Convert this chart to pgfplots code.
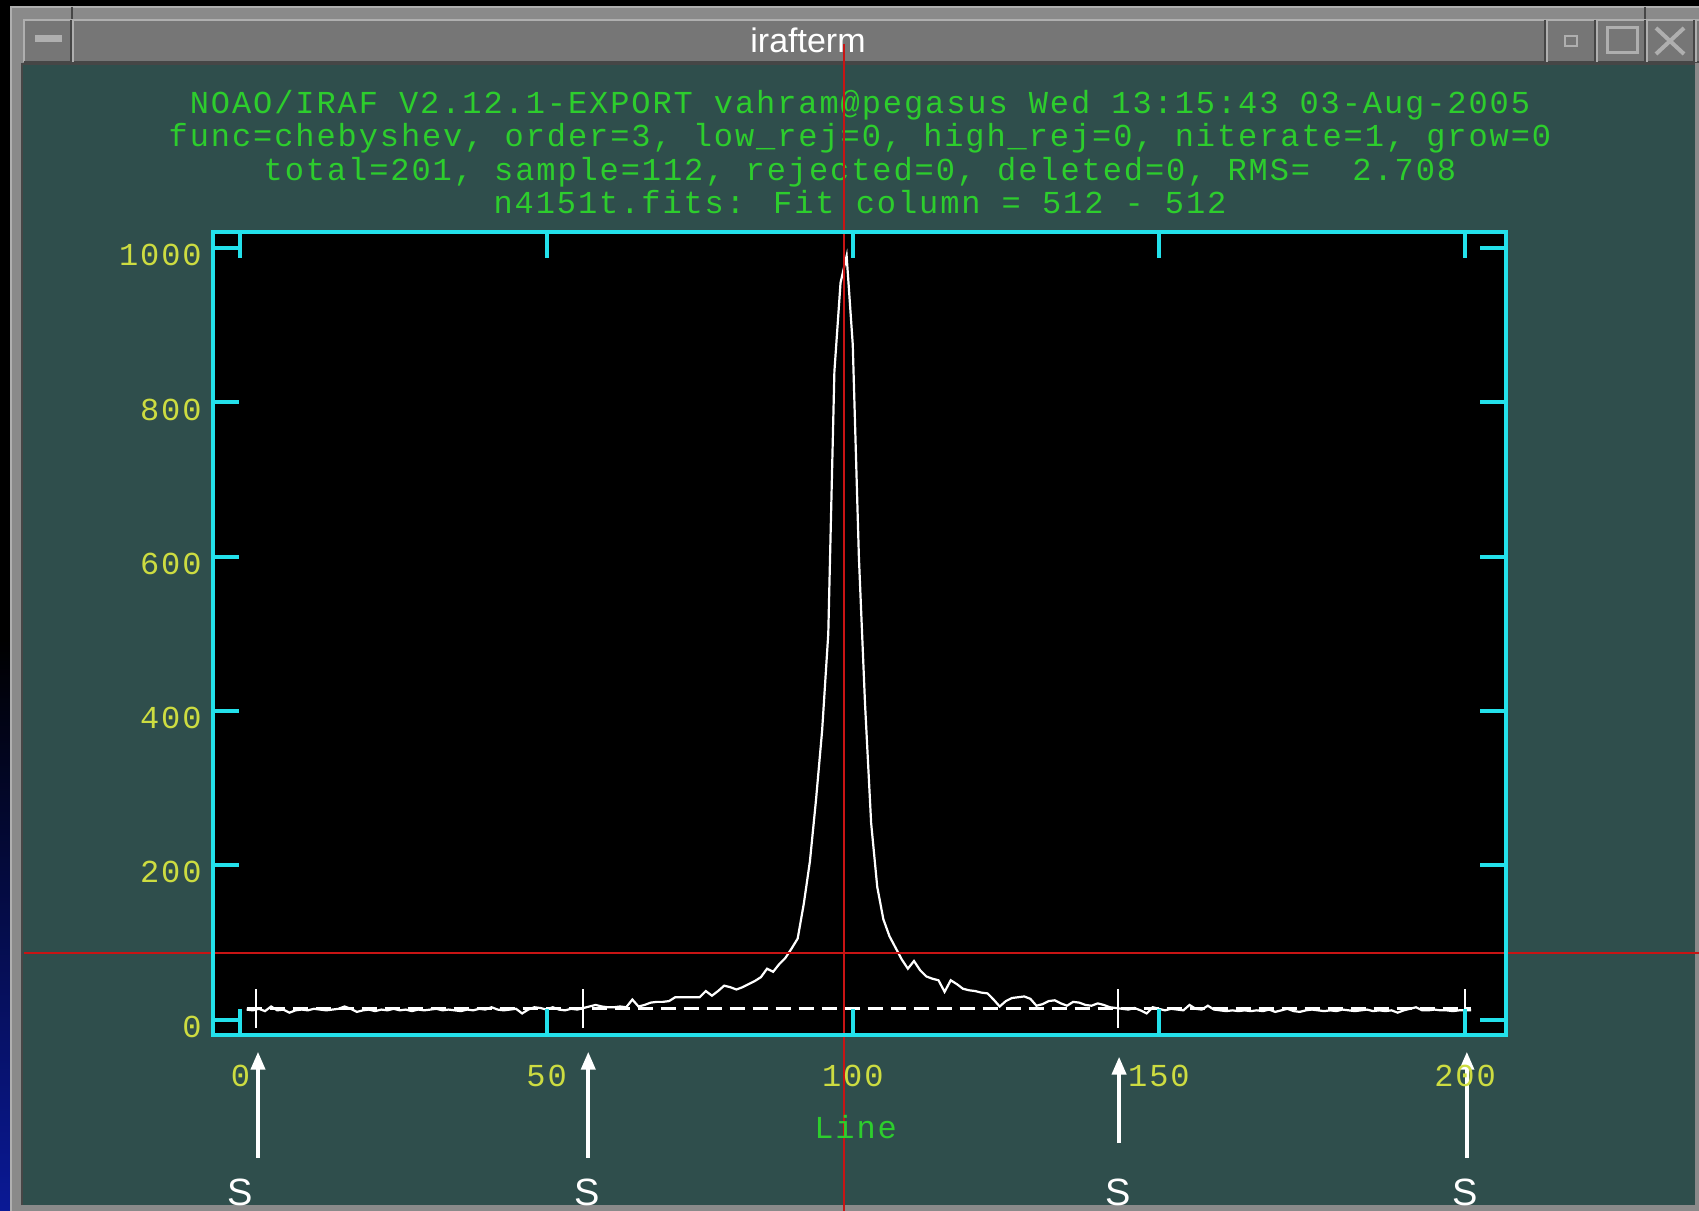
\documentclass[border=0pt]{standalone}
\usepackage{pgfplots}
\pgfplotsset{compat=1.18}
\usepackage{pgfplotstable}
\usepackage{fontspec}
\setmainfont{Liberation Sans}
\newfontfamily\iraf[LetterSpace=6]{Liberation Mono}
\usetikzlibrary{arrows.meta}
\definecolor{irbg}{RGB}{47,78,76}
\definecolor{ircyan}{RGB}{35,225,235}
\definecolor{iryel}{RGB}{205,220,65}
\definecolor{irgreen}{RGB}{45,205,45}
\definecolor{irred}{RGB}{200,20,20}
\definecolor{frm}{RGB}{138,138,138}
\definecolor{tbar}{RGB}{118,118,118}
\definecolor{lite}{RGB}{175,175,175}
\definecolor{dark}{RGB}{70,70,70}

\pgfplotstableread{
x y
1 13
2 12
3 14
4 11
5 17
6 12
7 13
8 9
9 12
10 13
11 12
12 14
13 13
14 12
15 13
16 14
17 17
18 14
19 10
20 12
21 13
22 11
23 13
24 12
25 14
26 12
27 13
28 11
29 13
30 12
31 13
32 14
33 12
34 13
35 12
36 11
37 13
38 12
39 14
40 13
41 16
42 13
43 12
44 13
45 14
46 8
47 13
48 16
49 15
50 13
51 16
52 13
53 12
54 14
55 13
56 15
57 17
58 19
59 17
60 16
61 16
62 17
63 16
64 26
65 17
66 19
67 22
68 23
69 23
70 24
71 29
72 29
73 29
74 29
75 29
76 37
77 31
78 37
79 44
80 42
81 39
82 42
83 46
84 50
85 55
86 66
87 62
88 72
89 80
90 92
91 105
92 150
93 205
94 285
95 375
96 500
97 840
98 955
99 990
100 875
101 600
102 410
103 255
104 172
105 130
106 108
107 93
108 78
109 66
110 76
111 64
112 56
113 53
114 51
115 36
116 51
117 46
118 40
119 38
120 37
121 35
122 34
123 26
124 17
125 24
126 28
127 29
128 30
129 27
130 18
131 20
132 24
133 25
134 21
135 18
136 23
137 22
138 19
139 18
140 21
141 19
142 16
143 15
144 14
145 13
146 15
147 12
148 8
149 16
150 14
151 12
152 14
153 13
154 12
155 19
156 14
157 13
158 18
159 13
160 12
161 11
162 12
163 11
164 12
165 11
166 12
167 11
168 13
169 10
170 12
171 14
172 11
173 10
174 12
175 13
176 12
177 11
178 12
179 11
180 13
181 12
182 11
183 12
184 13
185 11
186 12
187 11
188 12
189 9
190 12
191 14
192 16
193 12
194 12
195 13
196 12
197 12
198 11
199 12
200 12
201 12
}\prof

\begin{document}
\begin{tikzpicture}[x=0.5bp,y=0.5bp]
\useasboundingbox (0,0) rectangle (1699,-1211);
\clip (0,0) rectangle (1699,-1211);
\fill[black] (0,0) rectangle (1699,-1211);
\shade[top color=black, bottom color={rgb,255:red,10;green,25;blue,150}] (0,-640) rectangle (10,-1211);
% window frame
\fill[frm] (10,-6) rectangle (1699,-1211);
\draw[lite, line width=1bp] (11,-1211) -- (11,-7) -- (1699,-7);
\draw[dark, line width=1bp] (72,-7) -- (72,-19);
\draw[dark, line width=1bp] (1645,-7) -- (1645,-19);
% title bar
\fill[tbar] (24,-19) rectangle (1699,-62);
\draw[lite, line width=1bp] (24,-62) -- (24,-20) -- (1699,-20);
\draw[dark, line width=1bp] (24,-62) -- (1699,-62);
\foreach \xx in {72,1546,1596,1646,1695}{
  \draw[dark, line width=1bp] (\xx-1.5,-20) -- (\xx-1.5,-62);
  \draw[lite, line width=1bp] (\xx+1,-20) -- (\xx+1,-62);
}
\fill[lite] (35,-35) rectangle (62,-42);
\draw[lite, line width=1bp] (1565,-36) rectangle (1577,-46);
\draw[lite, line width=1.5bp] (1607,-28) rectangle (1637,-53);
\draw[lite, line width=2bp] (1656,-28) -- (1684,-54) (1656,-54) -- (1684,-28);
\node[white, anchor=base, font=\fontsize{17bp}{20bp}\selectfont] at (808,-53) {irafterm};
% teal client area
\fill[irbg] (22,-64) rectangle (1695,-1205);
\draw[dark, line width=1bp] (22,-1205) -- (22,-64) -- (1695,-64);
% header
\begin{scope}[every node/.style={irgreen, anchor=base, inner sep=0pt, font=\iraf\fontsize{16bp}{19bp}\selectfont}]
\node at (860,-114) {NOAO/IRAF V2.12.1-EXPORT vahram@pegasus Wed 13:15:43 03-Aug-2005};
\node at (860,-147) {func=chebyshev, order=3, low\_rej=0, high\_rej=0, niterate=1, grow=0};
\node at (860,-181) {total=201, sample=112, rejected=0, deleted=0, RMS=\ \ 2.708};
\node at (860,-214) {n4151t.fits: Fit column = 512 - 512};
\end{scope}

\begin{axis}[
  at={(106.5bp,-517.5bp)}, anchor=south west,
  scale only axis, width=646.5bp, height=401.5bp,
  xmin=-4.49, xmax=206.7, ymin=-20, ymax=1021,
  axis background/.style={fill=black},
  axis on top,
  axis line style={ircyan, line width=2bp},
  xtick={0,50,100,150,200}, xticklabels={0,50,100,150,200},
  ytick={0,200,400,600,800,1000}, yticklabels={0,200,400,600,800,1000},
  tick style={ircyan, line width=2bp},
  major tick length=13bp,
  tick align=inside,
  ticklabel style={iryel, font=\iraf\fontsize{16bp}{19bp}\selectfont},
  xticklabel style={anchor=base, inner sep=0pt, yshift=-25.5bp},
  yticklabel style={anchor=base east, inner sep=0pt, xshift=-5.5bp, yshift=-8.8bp},
  xlabel={Line},
  xlabel style={at={(axis description cs:0.497,0)}, anchor=base, inner sep=0pt, yshift=-51.5bp, irgreen, font=\iraf\fontsize{16bp}{19bp}\selectfont},
  clip=false,
]
\addplot[white, line width=1.1bp] table[x=x, y=y] {\prof};
\addplot[white, line width=1.1bp, dash pattern=on 7.5bp off 4bp] coordinates {(1,14.5) (201,14.5)};
\addplot[white, line width=1bp] coordinates {(2.6,-11) (2.6,40)};
\addplot[white, line width=1bp] coordinates {(55.9,-11) (55.9,40)};
\addplot[white, line width=1bp] coordinates {(143.4,-11) (143.4,40)};
\addplot[white, line width=1bp] coordinates {(200,-11) (200,40)};
% crosshair
\addplot[irred, line width=1bp] coordinates {(98.5,1265) (98.5,-260)};
\addplot[irred, line width=1.2bp] coordinates {(-35.4,86) (240,86)};
% arrows
\addplot[white, line width=2bp, -{Triangle[length=9bp,width=7bp]}] coordinates {(2.86,-179) (2.86,-41.6)};
\addplot[white, line width=2bp, -{Triangle[length=9bp,width=7bp]}] coordinates {(56.8,-179) (56.8,-41.6)};
\addplot[white, line width=2bp, -{Triangle[length=9bp,width=7bp]}] coordinates {(143.5,-160) (143.5,-48)};
\addplot[white, line width=2bp, -{Triangle[length=9bp,width=7bp]}] coordinates {(200.3,-179) (200.3,-41.6)};
\node[white, anchor=base, inner sep=0pt, font=\fontsize{19bp}{22bp}\selectfont] at (axis cs:-0.1,-241) {S};
\node[white, anchor=base, inner sep=0pt, font=\fontsize{19bp}{22bp}\selectfont] at (axis cs:56.6,-241) {S};
\node[white, anchor=base, inner sep=0pt, font=\fontsize{19bp}{22bp}\selectfont] at (axis cs:143.3,-241) {S};
\node[white, anchor=base, inner sep=0pt, font=\fontsize{19bp}{22bp}\selectfont] at (axis cs:200,-241) {S};
\end{axis}
\end{tikzpicture}
\end{document}
